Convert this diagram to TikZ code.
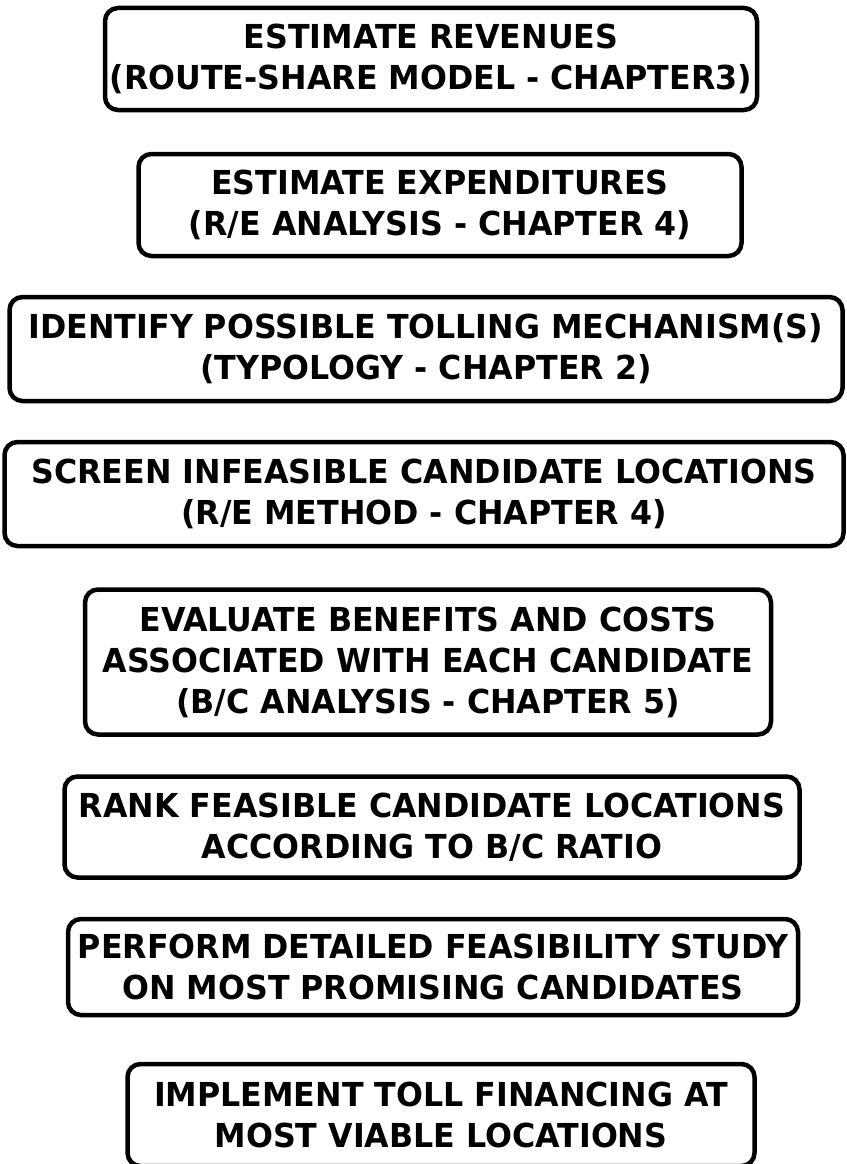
\documentclass[tikz,border=0pt]{standalone}
\usepackage{fontspec}
\newfontfamily\plotfont{DejaVu Sans}[FakeStretch=0.96]
\usetikzlibrary{positioning}

\begin{document}
\begin{tikzpicture}[x=1pt,y=-1pt,
	stepbox/.style={draw, line width=4.5pt, rounded corners=13pt, align=center,
		inner sep=0pt, font=\plotfont\bfseries\fontsize{33}{41}\selectfont}]
			\useasboundingbox (0,0) rectangle (846,1164);
			% the eight steps, top to bottom
			\node[stepbox, minimum width=652, minimum height=102] (revenues) at (431,59)
				{ESTIMATE REVENUES\\(ROUTE-SHARE MODEL - CHAPTER3)};
			\node[stepbox, minimum width=603, minimum height=102] (expend) at (440,205)
				{ESTIMATE EXPENDITURES\\(R/E ANALYSIS - CHAPTER 4)};
			\node[stepbox, minimum width=833, minimum height=104] (tolling) at (426,349)
				{IDENTIFY POSSIBLE TOLLING MECHANISM(S)\\(TYPOLOGY - CHAPTER 2)};
			\node[stepbox, minimum width=839, minimum height=104] (screen) at (424,494)
				{SCREEN INFEASIBLE CANDIDATE LOCATIONS\\(R/E METHOD - CHAPTER 4)};
			\node[stepbox, minimum width=686, minimum height=145] (evaluate) at (428,662)
				{EVALUATE BENEFITS AND COSTS\\ASSOCIATED WITH EACH CANDIDATE\\(B/C ANALYSIS - CHAPTER 5)};
			\node[stepbox, minimum width=735, minimum height=101] (rank) at (432,827)
				{RANK FEASIBLE CANDIDATE LOCATIONS\\ACCORDING TO B/C RATIO};
			\node[stepbox, minimum width=730, minimum height=96] (study) at (433,967)
				{PERFORM DETAILED FEASIBILITY STUDY\\ON MOST PROMISING CANDIDATES};
			\node[stepbox, minimum width=627, minimum height=102] (implement) at (441,1115)
				{IMPLEMENT TOLL FINANCING AT\\MOST VIABLE LOCATIONS};
\end{tikzpicture}
\end{document}
